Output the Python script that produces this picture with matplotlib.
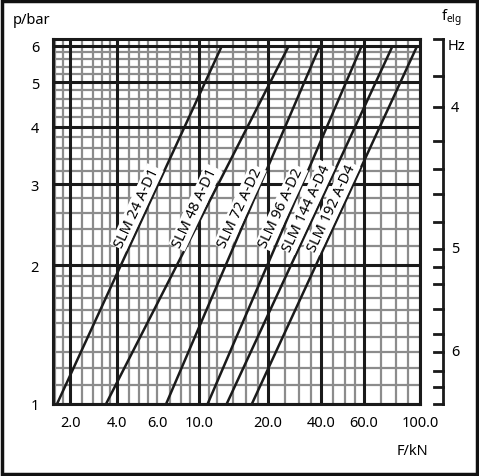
import numpy as np
import matplotlib
matplotlib.use("Agg")
import matplotlib.pyplot as plt
from matplotlib.transforms import offset_copy

plt.rcParams['font.family'] = ['Noto Sans', 'DejaVu Sans']

names = ["SLM 24 A-D1", "SLM 48 A-D1", "SLM 72 A-D2", "SLM 96 A-D2", "SLM 144 A-D4", "SLM 192 A-D4"]
F_at_p1 = [1.65, 3.40, 6.7, 10.9, 13.2, 17.0]
F_at_p6 = [12.6, 26.3, 39.5, 58.8, 78.0, 97.6]
p_ends = [1.0, 6.0]
x_ticks = [2, 4, 6, 10, 20, 40, 60, 100]
x_ticklabels = ["2.0", "4.0", "6.0", "10.0", "20.0", "40.0", "60.0", "100.0"]
y_ticks = [1, 2, 3, 4, 5, 6]
f_labels = ["4", "5", "6"]

# nonuniform x scale (piecewise log) as printed
kx_v = np.log10([1, 2, 4, 6, 10, 20, 40, 60, 100, 200])
kx_p = np.array([23, 70, 117, 157, 199, 268, 321, 364, 420, 496], float)
fwd = lambda v: np.interp(np.log10(np.clip(v, 1e-3, None)), kx_v, kx_p)
inv = lambda p: 10 ** np.interp(p, kx_p, kx_v)

W, H = 479, 477
fig = plt.figure(figsize=(W/100, H/100), dpi=100)
fig.patches.append(plt.Rectangle((0.004, 0.004), 0.992, 0.992, transform=fig.transFigure,
                                 fill=False, lw=2.5, ec='#111'))
L, R, T, B = 53, 420, 40, 405
ax = fig.add_axes([L/W, 1-B/H, (R-L)/W, (B-T)/H])
ax.set_xscale('function', functions=(fwd, inv))
ax.set_yscale('log')
ax.set_xlim(1.556, 100)
ax.set_ylim(1, 6.2)

gray = '#8c8c8c'
xminor = [1.6, 1.8, 2.4, 2.8, 3.2, 3.6, 4.5, 5, 5.5, 6, 7, 8, 9, 11, 12, 14, 16, 18,
          25, 30, 35, 45, 50, 55, 70, 80, 90]
for v in xminor:
    ax.axvline(v, color=gray, lw=1.6, zorder=1)
for v in x_ticks:
    if v != 6:
        ax.axvline(v, color='#1a1a1a', lw=2.2, zorder=2)
yminor = list(np.arange(1.1, 2.0, 0.1)) + [2.2, 2.4, 2.6, 2.8, 3.2, 3.4, 3.6, 3.8,
                                            4.2, 4.4, 4.6, 4.8, 5.2, 5.4, 5.6, 5.8, 6.2]
for v in yminor:
    ax.axhline(v, color=gray, lw=1.6, zorder=1)
for v in y_ticks:
    ax.axhline(v, color='#1a1a1a', lw=2.2, zorder=2)

for n, a, b in zip(names, F_at_p1, F_at_p6):
    ax.plot([a, b], p_ends, color='#1a1a1a', lw=1.8, zorder=3, solid_capstyle='butt')
    pm = 2.62
    t = np.log10(pm) / np.log10(6)
    xm = inv(fwd(a) + t * (fwd(b) - fwd(a)))
    tr = offset_copy(ax.transData, fig=fig, x=-9, y=4, units='dots')
    ax.text(xm, pm, n, rotation=65, rotation_mode='anchor', ha='center', va='center',
            fontsize=10.5, transform=tr, zorder=4,
            bbox=dict(fc='white', ec='none', pad=1.0))

for s in ax.spines.values():
    s.set_linewidth(2.2)
    s.set_color('#1a1a1a')
ax.set_xticks(x_ticks)
ax.set_xticklabels(x_ticklabels, fontsize=10.5)
ax.set_yticks(y_ticks)
ax.set_yticklabels([str(v) for v in y_ticks], fontsize=10.5)
ax.minorticks_off()
ax.tick_params(length=0, pad=8)
ax.tick_params(axis='y', pad=10)

fig.text(13/W, 1-20/H, "p/bar", fontsize=10.5, va='center')
fig.text(397/W, 1-452/H, "F/kN", fontsize=10.5, va='center')
fig.text(441/W, 1-18/H, r"f$_{\mathregular{elg}}$", fontsize=10.5, va='center')
fig.text(448/W, 1-47/H, "Hz", fontsize=10.5, va='center')

rax = fig.add_axes([0, 0, 1, 1], facecolor='none')
rax.set_xlim(0, W); rax.set_ylim(H, 0); rax.axis('off')
rticks = [40, 77, 108, 142, 170, 195, 223, 250, 268, 285, 310, 335, 353, 372, 388, 405]
rax.plot([443, 443], [40, 405], color='#1a1a1a', lw=2)
for yy in rticks:
    rax.plot([434, 443], [yy, yy], color='#1a1a1a', lw=2)
for lab, yy in zip(f_labels, [108, 250, 353]):
    rax.text(451, yy, lab, fontsize=10.5, va='center')

fig.savefig("out.png", dpi=100)
